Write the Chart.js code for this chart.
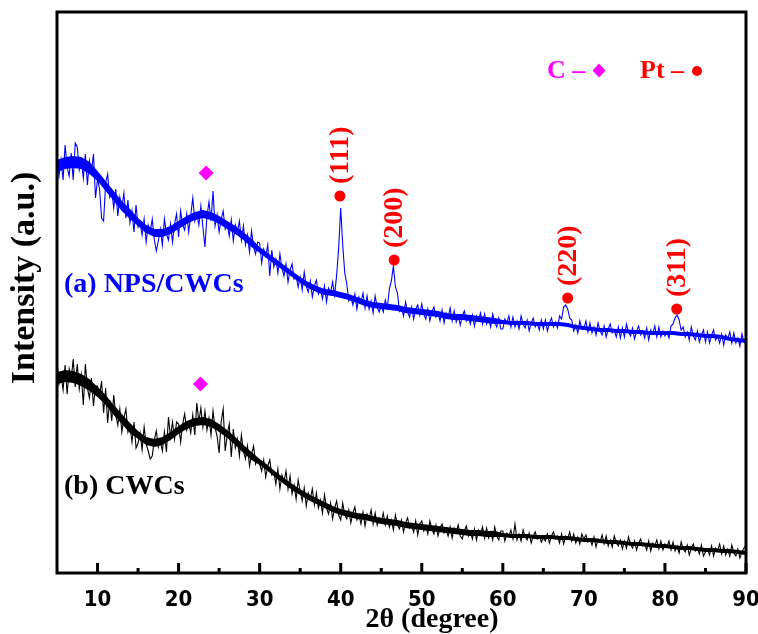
<!DOCTYPE html>
<html>
<head>
<meta charset="utf-8">
<script src="https://cdn.jsdelivr.net/npm/chart.js@4.4.1/dist/chart.umd.min.js"></script>
<style>
    html, body { margin: 0; padding: 0; background: #ffffff; }
    #xrd_chart { display: block; }
</style>
</head>
<body>
<canvas id="xrd_chart" width="758" height="634"></canvas>
<script>
// 2theta grid, 0.25 degree steps from 5 to 90
const twoTheta = Array.from({ length: 341 }, (_, i) => 5 + i * 0.25);
// coarse grid (1 degree) for the dense core of the noise band
const bandAngles = Array.from({ length: 86 }, (_, i) => 5 + i);

// (a) NPS/CWCs, intensity in a.u.
const npsCwcs = [
    421, 397, 413, 393, 428, 406, 397, 420, 393, 430, 426, 403, 412, 395, 419, 388, 412, 401, 419, 375,
    394, 384, 355, 352, 390, 399, 376, 382, 365, 384, 357, 376, 365, 380, 355, 373, 350, 362, 341, 368,
    346, 350, 338, 354, 331, 348, 341, 354, 334, 322, 332, 344, 328, 354, 339, 333, 349, 331, 349, 359,
    336, 362, 348, 343, 359, 341, 358, 375, 352, 359, 348, 367, 346, 326, 357, 371, 352, 382, 347, 358,
    341, 354, 362, 344, 349, 337, 353, 332, 348, 341, 352, 333, 347, 328, 338, 321, 342, 326, 319, 331,
    330, 310, 324, 317, 328, 297, 323, 306, 314, 300, 319, 305, 297, 309, 291, 303, 309, 294, 297, 286,
    296, 283, 301, 287, 281, 292, 276, 287, 293, 279, 284, 274, 287, 271, 285, 280, 291, 278, 298, 325,
    365, 328, 300, 289, 272, 276, 268, 279, 264, 276, 271, 280, 265, 277, 264, 272, 260, 277, 266, 261,
    268, 261, 273, 265, 284, 292, 307, 286, 280, 262, 266, 257, 271, 261, 256, 266, 254, 264, 268, 258,
    269, 259, 254, 264, 252, 261, 266, 256, 260, 252, 263, 250, 260, 256, 265, 252, 262, 251, 257, 248,
    257, 262, 252, 256, 249, 258, 247, 257, 253, 260, 249, 259, 249, 254, 246, 259, 251, 246, 255, 244,
    244, 254, 250, 257, 246, 256, 246, 252, 244, 257, 249, 245, 253, 242, 250, 255, 246, 250, 243, 253,
    244, 253, 242, 250, 255, 246, 251, 245, 257, 254, 266, 268, 264, 255, 253, 242, 248, 240, 252, 244,
    244, 252, 241, 250, 240, 246, 238, 250, 242, 238, 247, 236, 244, 249, 240, 243, 236, 246, 235, 245,
    236, 249, 241, 237, 245, 234, 242, 247, 238, 242, 235, 245, 233, 243, 239, 247, 236, 246, 236, 242,
    237, 241, 235, 247, 249, 255, 258, 253, 243, 246, 236, 241, 233, 246, 237, 233, 242, 231, 238, 243,
    231, 241, 230, 238, 243, 233, 237, 230, 239, 228, 238, 234, 241, 230, 240, 230, 235, 227, 239, 231,
    229
];

// dense core of the (a) band, upper / lower edge
const npsCwcsUpper = [
    413, 416, 417, 416, 411, 402, 392, 382, 372, 364,
    355, 348, 344, 344, 347, 352, 357, 361, 363, 361, 357, 352, 347, 341, 334,
    326, 320, 314, 308, 302, 296, 291, 287, 284, 283,
    281, 279, 276, 273, 271, 270, 269, 268, 266, 265, 264, 263, 262, 260, 259, 259, 258, 257, 256, 255,
    253, 252, 252, 252, 251, 251, 251, 251, 250, 248, 247, 246, 245, 245, 244, 244,
    243, 243, 242, 242, 242, 242, 241, 241, 240, 239, 239, 238, 236, 235, 234
];
const npsCwcsLower = [
    401, 404, 405, 404, 399, 392, 382, 372, 362, 354,
    347, 340, 336, 336, 339, 344, 349, 353, 355, 353, 349, 344, 339, 333, 326,
    320, 314, 308, 302, 296, 290, 285, 281, 278, 277,
    275, 273, 270, 267, 265, 264, 263, 262, 260, 259, 258, 257, 256, 254, 253, 253, 252, 251, 250, 249,
    249, 248, 248, 248, 247, 247, 247, 247, 246, 244, 243, 242, 241, 241, 240, 240,
    239, 239, 238, 238, 238, 238, 237, 237, 236, 235, 235, 234, 232, 231, 230
];

// (b) CWCs, intensity in a.u.
const cwcs = [
    211, 189, 198, 183, 208, 179, 204, 194, 214, 186, 209, 184, 198, 168, 209, 185, 175, 195, 167, 187,
    187, 177, 192, 160, 185, 150, 173, 152, 178, 158, 148, 164, 141, 155, 164, 141, 147, 131, 151, 125,
    130, 140, 123, 146, 129, 122, 114, 117, 133, 142, 126, 132, 122, 141, 121, 156, 136, 151, 134, 151,
    149, 131, 149, 159, 143, 150, 140, 158, 138, 170, 151, 165, 146, 162, 143, 155, 138, 162, 145, 137,
    120, 151, 164, 122, 138, 149, 116, 144, 125, 134, 117, 138, 122, 114, 127, 107, 119, 127, 109, 114,
    109, 102, 113, 96, 107, 113, 98, 101, 89, 104, 84, 98, 91, 102, 84, 97, 79, 88, 74, 93,
    82, 72, 85, 67, 80, 74, 84, 68, 80, 65, 73, 60, 78, 65, 59, 70, 54, 65, 72, 58,
    53, 70, 58, 54, 63, 50, 60, 66, 53, 58, 49, 61, 47, 59, 54, 63, 49, 60, 48, 55,
    51, 60, 48, 57, 46, 53, 43, 58, 48, 44, 53, 41, 50, 55, 45, 48, 41, 52, 38, 49,
    52, 42, 47, 39, 52, 44, 39, 48, 37, 45, 49, 40, 44, 37, 46, 35, 45, 41, 48, 37,
    34, 42, 47, 37, 41, 34, 44, 33, 43, 39, 46, 35, 45, 35, 41, 33, 46, 37, 33, 42,
    42, 32, 40, 37, 43, 34, 49, 33, 39, 32, 43, 36, 33, 40, 30, 37, 41, 34, 37, 31,
    35, 32, 39, 30, 37, 41, 34, 37, 30, 39, 29, 37, 34, 41, 32, 39, 30, 36, 29, 39,
    34, 38, 31, 34, 28, 36, 26, 34, 31, 38, 29, 37, 27, 33, 26, 37, 30, 27, 33, 24,
    32, 25, 36, 29, 25, 32, 23, 30, 34, 27, 29, 23, 32, 22, 30, 27, 33, 24, 32, 23,
    29, 26, 32, 23, 31, 22, 27, 20, 31, 24, 21, 28, 18, 25, 29, 22, 25, 19, 28, 17,
    21, 24, 18, 27, 17, 25, 22, 29, 19, 27, 18, 24, 17, 28, 20, 17, 24, 15, 21, 25,
    28
];

// dense core of the (b) band, upper / lower edge
const cwcsUpper = [
    201, 203, 202, 199, 194, 186, 178, 168, 159, 150,
    142, 136, 134, 136, 141, 147, 152, 155, 156, 154, 149, 143, 136, 128, 121,
    114, 108, 101, 95, 89, 84, 79, 75, 71, 67,
    64, 62, 60, 59, 57, 55, 54, 53, 51, 50, 49, 48, 47, 46, 45, 44, 43, 43, 42, 42,
    40, 39, 39, 39, 38, 38, 38, 37, 37, 36, 35, 35, 34, 33, 33, 32,
    31, 31, 30, 29, 29, 28, 27, 27, 26, 25, 25, 24, 24, 23, 22
];
const cwcsLower = [
    189, 191, 190, 187, 182, 176, 168, 158, 149, 140,
    134, 128, 126, 128, 133, 139, 144, 147, 148, 146, 141, 135, 128, 120, 113,
    108, 102, 95, 89, 83, 78, 73, 69, 65, 61,
    58, 56, 54, 53, 51, 49, 48, 47, 45, 44, 43, 42, 41, 40, 39, 38, 37, 37, 36, 36,
    36, 35, 35, 35, 34, 34, 34, 33, 33, 32, 31, 31, 30, 29, 29, 28,
    27, 27, 26, 25, 25, 24, 23, 23, 22, 21, 21, 20, 20, 19, 18
];

// carbon (diamond) markers
const carbonAngles = [23.4, 22.7];
const carbonMarks = [400, 189];

// Pt (circle) markers and their planes
const ptAngles = [39.9, 46.6, 68.0, 81.45];
const ptMarks = [377, 313, 275, 264];
const ptLabels = ['(111)', '(200)', '(220)', '(311)'];

const majorTicks = [10, 20, 30, 40, 50, 60, 70, 80, 90];
const minorTicks = [15, 25, 35, 45, 55, 65, 75, 85];

const serif = "'Liberation Serif', 'Times New Roman', serif";
const BLUE = '#0000ff';
const MAGENTA = '#ff00ff';
const RED = '#ff0000';

function toPoints(xs, ys) {
    return ys.map((v, i) => ({ x: xs[i], y: v }));
}

function bandEdge(label, xs, ys, color, fill) {
    return {
        label: label,
        data: toPoints(xs, ys),
        borderWidth: 0,
        borderColor: 'rgba(0,0,0,0)',
        backgroundColor: color,
        pointRadius: 0,
        fill: fill,
        tension: 0,
        order: 3
    };
}

function noisyLine(label, ys, color) {
    return {
        label: label,
        data: toPoints(twoTheta, ys),
        borderColor: color,
        borderWidth: 1.1,
        borderJoinStyle: 'miter',
        pointRadius: 0,
        fill: false,
        tension: 0,
        order: 2
    };
}

const decorPlugin = {
    id: 'xrdDecor',
    afterDatasetsDraw(chart) {
        const ctx = chart.ctx;
        const area = chart.chartArea;
        const xs = chart.scales.x;
        const ys = chart.scales.y;
        ctx.save();

        // frame
        ctx.strokeStyle = '#000';
        ctx.lineWidth = 3;
        ctx.strokeRect(area.left, area.top, area.right - area.left, area.bottom - area.top);

        // inward ticks on the bottom axis
        majorTicks.forEach(v => {
            const px = xs.getPixelForValue(v);
            ctx.beginPath();
            ctx.moveTo(px, area.bottom);
            ctx.lineTo(px, area.bottom - 10);
            ctx.stroke();
        });
        minorTicks.forEach(v => {
            const px = xs.getPixelForValue(v);
            ctx.beginPath();
            ctx.moveTo(px, area.bottom);
            ctx.lineTo(px, area.bottom - 5);
            ctx.stroke();
        });

        // Pt plane labels, rotated
        ctx.font = 'bold 28px ' + serif;
        ctx.fillStyle = RED;
        ctx.textAlign = 'left';
        ctx.textBaseline = 'middle';
        ptLabels.forEach((label, i) => {
            const px = xs.getPixelForValue(ptAngles[i]);
            const py = ys.getPixelForValue(ptMarks[i]);
            ctx.save();
            ctx.translate(px + 1, py - 12);
            ctx.rotate(-Math.PI / 2);
            ctx.fillText(label, 0, 0);
            ctx.restore();
        });

        // series names
        ctx.textBaseline = 'alphabetic';
        ctx.fillStyle = BLUE;
        ctx.fillText('(a) NPS/CWCs', 64, 292);
        ctx.fillStyle = '#000';
        ctx.fillText('(b) CWCs', 64, 494);

        // phase key
        ctx.font = 'bold 26px ' + serif;
        ctx.fillStyle = MAGENTA;
        ctx.fillText('C \u2013', 547, 78);
        ctx.beginPath();
        ctx.moveTo(599, 63.5); ctx.lineTo(605.5, 70.5); ctx.lineTo(599, 77.5); ctx.lineTo(592.5, 70.5);
        ctx.closePath();
        ctx.fill();
        ctx.fillStyle = RED;
        ctx.fillText('Pt \u2013', 640, 78);
        ctx.beginPath();
        ctx.arc(697, 71, 5, 0, Math.PI * 2);
        ctx.fill();

        // axis titles
        ctx.fillStyle = '#000';
        ctx.font = 'bold 28px ' + serif;
        ctx.textAlign = 'center';
        ctx.fillText('2\u03b8 (degree)', 432, 627);

        ctx.font = 'bold 34px ' + serif;
        ctx.save();
        ctx.translate(34, 278);
        ctx.rotate(-Math.PI / 2);
        ctx.fillText('Intensity (a.u.)', 0, 0);
        ctx.restore();

        ctx.restore();
    }
};

function initXrdChart() {
    const ctx = document.getElementById('xrd_chart').getContext('2d');
    return new Chart(ctx, {
        type: 'line',
        data: {
            datasets: [
                bandEdge('CWCs low', bandAngles, cwcsLower, '#000000', false),
                bandEdge('CWCs high', bandAngles, cwcsUpper, '#000000', '-1'),
                bandEdge('NPS/CWCs low', bandAngles, npsCwcsLower, BLUE, false),
                bandEdge('NPS/CWCs high', bandAngles, npsCwcsUpper, BLUE, '-1'),
                noisyLine('CWCs', cwcs, '#000000'),
                noisyLine('NPS/CWCs', npsCwcs, BLUE),
                {
                    label: 'C',
                    data: toPoints(carbonAngles, carbonMarks),
                    showLine: false,
                    pointStyle: 'rectRot',
                    pointRadius: 7.5,
                    backgroundColor: MAGENTA,
                    borderColor: MAGENTA,
                    borderWidth: 0,
                    order: 1
                },
                {
                    label: 'Pt',
                    data: toPoints(ptAngles, ptMarks),
                    showLine: false,
                    pointStyle: 'circle',
                    pointRadius: 5.5,
                    backgroundColor: RED,
                    borderColor: RED,
                    borderWidth: 0,
                    order: 1
                }
            ]
        },
        options: {
            responsive: false,
            animation: false,
            layout: { padding: { left: 57, right: 12, top: 12, bottom: 0 } },
            scales: {
                x: {
                    type: 'linear',
                    min: 5,
                    max: 90,
                    grid: { display: false, drawTicks: false },
                    border: { display: false },
                    afterBuildTicks: scale => {
                        scale.ticks = majorTicks.map(v => ({ value: v }));
                    },
                    afterFit: scale => {
                        scale.height = 61;
                        scale.paddingLeft = 0;
                        scale.paddingRight = 0;
                    },
                    ticks: {
                        color: '#000',
                        padding: 14,
                        maxRotation: 0,
                        autoSkip: false,
                        font: {
                            family: "'Liberation Sans Narrow', 'DejaVu Sans Condensed', 'Liberation Sans', Arial",
                            weight: 'bold',
                            size: 22
                        }
                    }
                },
                y: {
                    display: false,
                    min: 0,
                    max: 561
                }
            },
            plugins: {
                legend: { display: false },
                tooltip: { enabled: false }
            }
        },
        plugins: [decorPlugin]
    });
}

const xrdChart = initXrdChart();
</script>
</body>
</html>
